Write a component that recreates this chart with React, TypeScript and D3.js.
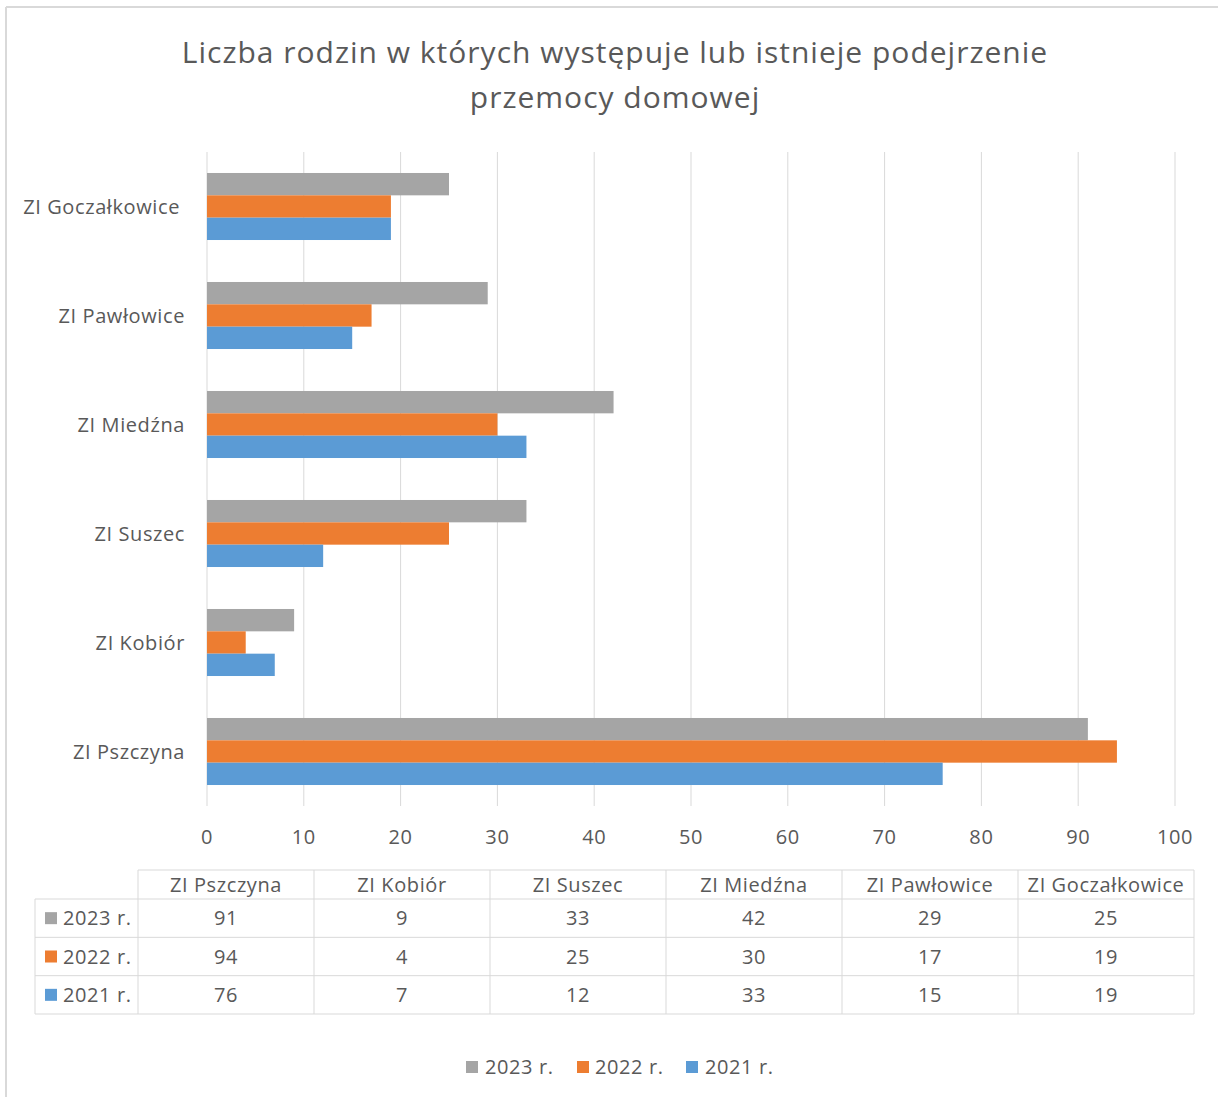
import React from "react";
import * as d3 from "d3";

const categories = ["ZI Pszczyna", "ZI Kobiór", "ZI Suszec", "ZI Miedźna", "ZI Pawłowice", "ZI Goczałkowice"];
const seriesNames = ["2023 r.", "2022 r.", "2021 r."];
const values2023 = [91, 9, 33, 42, 29, 25];
const values2022 = [94, 4, 25, 30, 17, 19];
const values2021 = [76, 7, 12, 33, 15, 19];
const seriesColors = ["#A5A5A5", "#ED7D31", "#5B9BD5"];
const xTicks = [0, 10, 20, 30, 40, 50, 60, 70, 80, 90, 100];
const titleLines = ["Liczba rodzin w których występuje lub istnieje podejrzenie", "przemocy domowej"];

const W = 1218;
const H = 1097;
const FONT = "'Open Sans', sans-serif";
const TXT = "#595959";
const GRID = "#D9D9D9";
const LS = 0.6;

export default function App() {
  const seriesValues = [values2023, values2022, values2021];
  const x = d3.scaleLinear().domain([0, 100]).range([207, 1175]);
  const yCats = [...categories].reverse();
  const y = d3.scaleBand<string>().domain(yCats).range([152, 806]).paddingInner(0.385).paddingOuter(0.1925);
  const yInner = d3.scaleBand<string>().domain(seriesNames).range([0, y.bandwidth()]);

  const col = d3.scaleBand<string>().domain(categories).range([138, 1194]);
  const tableLeft = 35;
  const headerTop = 870;
  const headerBottom = 899;
  const row = d3.scaleBand<string>().domain(seriesNames).range([899, 1014]);

  const legendItems = [
    { x: 466, tx: 485 },
    { x: 577, tx: 595 },
    { x: 686, tx: 705 },
  ];

  return (
    <svg width={W} height={H} style={{ position: "absolute", left: 0, top: 0, background: "#fff" }} fontFamily={FONT}>
      <rect x={0} y={0} width={W} height={H} fill="#fff" />
      <line x1={6} y1={7} x2={W} y2={7} stroke={GRID} strokeWidth={2} />
      <line x1={6} y1={7} x2={6} y2={H} stroke={GRID} strokeWidth={2} />

      {titleLines.map((t, i) => (
        <text key={i} x={615} y={63 + i * 45} textAnchor="middle" fontSize={30} letterSpacing={1} fill={TXT}>
          {t}
        </text>
      ))}

      {xTicks.map((t) => (
        <line key={t} x1={x(t)} x2={x(t)} y1={152} y2={806} stroke={GRID} strokeWidth={1} />
      ))}

      {yCats.map((cat) => {
        const ci = categories.indexOf(cat);
        return (
          <g key={cat} transform={`translate(0,${y(cat)})`}>
            {seriesNames.map((s, si) => (
              <rect
                key={s}
                x={x(0)}
                y={yInner(s)}
                width={x(seriesValues[si][ci]) - x(0)}
                height={yInner.bandwidth()}
                fill={seriesColors[si]}
              />
            ))}
          </g>
        );
      })}

      {yCats.map((cat) => (
        <text key={cat} x={cat === "ZI Goczałkowice" ? 180 : 185} y={(y(cat) as number) + y.bandwidth() / 2} dy="0.35em" textAnchor="end" fontSize={20} letterSpacing={LS} fill={TXT}>
          {cat}
        </text>
      ))}

      {xTicks.map((t) => (
        <text key={t} x={x(t)} y={837} dy="0.35em" textAnchor="middle" fontSize={20} letterSpacing={LS} fill={TXT}>
          {t}
        </text>
      ))}

      <g>
        <line x1={138} x2={1194} y1={headerTop} y2={headerTop} stroke={GRID} />
        <line x1={tableLeft} x2={1194} y1={headerBottom} y2={headerBottom} stroke={GRID} />
        {seriesNames.map((s) => (
          <line key={s} x1={tableLeft} x2={1194} y1={(row(s) as number) + row.bandwidth()} y2={(row(s) as number) + row.bandwidth()} stroke={GRID} />
        ))}
        <line x1={tableLeft} x2={tableLeft} y1={headerBottom} y2={1014} stroke={GRID} />
        {categories.map((c) => (
          <line key={c} x1={col(c)} x2={col(c)} y1={headerTop} y2={1014} stroke={GRID} />
        ))}
        <line x1={1194} x2={1194} y1={headerTop} y2={1014} stroke={GRID} />
        {categories.map((c) => (
          <text key={c} x={(col(c) as number) + col.bandwidth() / 2} y={(headerTop + headerBottom) / 2} dy="0.35em" textAnchor="middle" fontSize={20} letterSpacing={LS} fill={TXT}>
            {c}
          </text>
        ))}
        {seriesNames.map((s, si) => {
          const cy = (row(s) as number) + row.bandwidth() / 2;
          return (
            <g key={s}>
              <rect x={45} y={cy - 6} width={12} height={12} fill={seriesColors[si]} />
              <text x={63} y={cy} dy="0.35em" fontSize={20} letterSpacing={LS} fill={TXT}>
                {s}
              </text>
              {categories.map((c, ci) => (
                <text key={c} x={(col(c) as number) + col.bandwidth() / 2} y={cy} dy="0.35em" textAnchor="middle" fontSize={20} letterSpacing={LS} fill={TXT}>
                  {seriesValues[si][ci]}
                </text>
              ))}
            </g>
          );
        })}
      </g>

      {seriesNames.map((s, si) => (
        <g key={s}>
          <rect x={legendItems[si].x} y={1061} width={12} height={12} fill={seriesColors[si]} />
          <text x={legendItems[si].tx} y={1067} dy="0.35em" fontSize={20} letterSpacing={LS} fill={TXT}>
            {s}
          </text>
        </g>
      ))}
    </svg>
  );
}
